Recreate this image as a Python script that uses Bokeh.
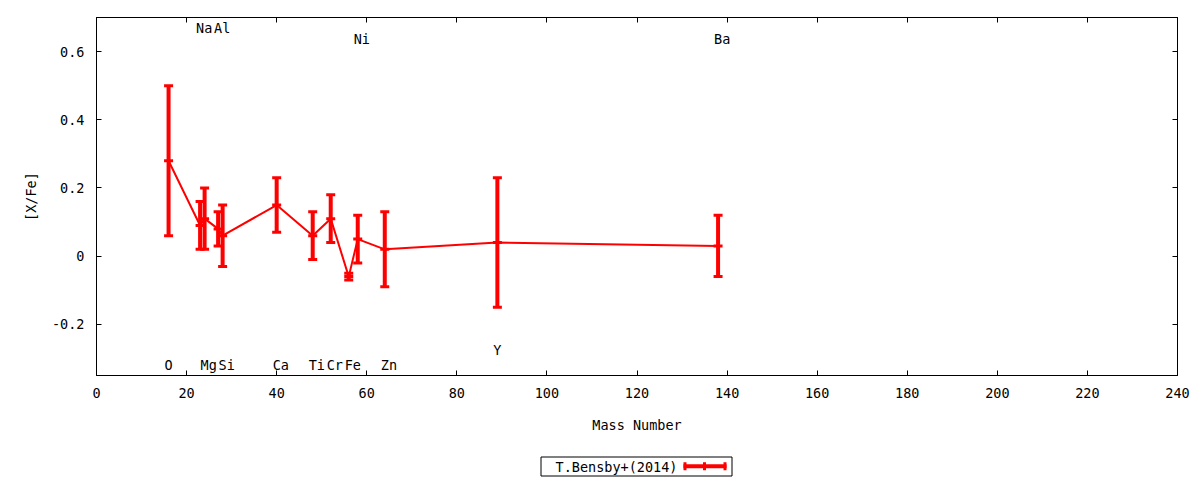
from bokeh.plotting import figure
from bokeh.layouts import column
from bokeh.models import LinearAxis, FixedTicker, Range1d, ColumnDataSource
from bokeh.core.properties import value
from bokeh.embed import file_html
from bokeh.resources import INLINE

# ---- data ----
elements = ["O", "Na", "Mg", "Al", "Si", "Ca", "Ti", "Cr", "Fe", "Ni", "Zn", "Y", "Ba"]
mass = [16, 23, 24, 27, 28, 40, 48, 52, 56, 58, 64, 89, 138]
xfe = [0.28, 0.09, 0.11, 0.08, 0.06, 0.15, 0.06, 0.11, -0.06, 0.05, 0.02, 0.04, 0.03]
err = [0.22, 0.07, 0.09, 0.05, 0.09, 0.08, 0.07, 0.07, 0.01, 0.07, 0.11, 0.19, 0.09]
label_y = [-0.318, 0.668, -0.318, 0.668, -0.318, -0.318, -0.318, -0.318, -0.318,
           0.638, -0.318, -0.276, 0.638]
x_ticks = [0, 20, 40, 60, 80, 100, 120, 140, 160, 180, 200, 220, 240]
y_ticks = [-0.2, 0, 0.2, 0.4, 0.6]
y_tick_labels = {-0.2: "-0.2", 0: "0", 0.2: "0.2", 0.4: "0.4", 0.6: "0.6"}
series_name = "T.Bensby+(2014)"

FONT = "DejaVu Sans Mono"
FS = "13.5px"
RED = "#ff0000"

lo = [v - e for v, e in zip(xfe, err)]
hi = [v + e for v, e in zip(xfe, err)]
src = ColumnDataSource(dict(x=mass, y=xfe, lo=lo, hi=hi, name=elements, ly=label_y))

p = figure(width=1200, height=452, output_backend="svg", toolbar_location=None,
           x_range=Range1d(0, 240), y_range=Range1d(-0.35, 0.7),
           min_border_left=96, min_border_right=23, min_border_top=17, min_border_bottom=77)
p.background_fill_color = "white"
p.border_fill_color = "white"
p.outline_line_color = "black"
p.outline_line_width = 1
p.grid.visible = False

# data line, error bars, caps
p.line("x", "y", source=src, line_color=RED, line_width=2)
p.segment("x", "lo", "x", "hi", source=src, line_color=RED, line_width=4)
for col in ("lo", "hi", "y"):
    p.rect("x", col, width=9, height=3, width_units="screen", height_units="screen",
           source=src, fill_color=RED, line_color=None)

# element labels
p.text("x", "ly", text="name", source=src, text_font=value(FONT), text_font_size=FS,
       text_color="black", text_align="left", text_baseline="middle", x_offset=-4)

# axes
for ax in (p.xaxis[0], p.yaxis[0]):
    ax.major_tick_in = 5
    ax.major_tick_out = 0
    ax.minor_tick_in = 0
    ax.minor_tick_out = 0
    ax.major_label_text_font = FONT
    ax.major_label_text_font_size = FS
    ax.major_label_text_color = "black"
    ax.axis_label_text_font = FONT
    ax.axis_label_text_font_size = FS
    ax.axis_label_text_font_style = "normal"
    ax.axis_label_text_color = "black"
    ax.axis_line_color = "black"
    ax.major_label_standoff = 12

p.xaxis[0].ticker = FixedTicker(ticks=x_ticks)
p.yaxis[0].ticker = FixedTicker(ticks=y_ticks)
p.yaxis[0].major_label_overrides = y_tick_labels
p.xaxis[0].axis_label = "Mass Number"
p.yaxis[0].axis_label = "[X/Fe]"
p.xaxis[0].axis_label_standoff = 16
p.yaxis[0].axis_label_standoff = 10

# mirrored ticks
top = LinearAxis(ticker=FixedTicker(ticks=x_ticks), major_tick_in=5, major_tick_out=0,
                 minor_tick_in=0, minor_tick_out=0, major_label_text_font_size="1px",
                 major_label_text_alpha=0, major_label_standoff=0, axis_line_color="black")
right = LinearAxis(ticker=FixedTicker(ticks=y_ticks), major_tick_in=5, major_tick_out=0,
                   minor_tick_in=0, minor_tick_out=0, major_label_text_font_size="1px",
                   major_label_text_alpha=0, major_label_standoff=0, axis_line_color="black")
p.add_layout(top, "above")
p.add_layout(right, "right")

# legend strip (gnuplot style: text then sample), page pixel coordinates
lg = figure(width=1200, height=28, output_backend="svg", toolbar_location=None,
            x_range=Range1d(96, 1177), y_range=Range1d(480, 452),
            min_border_left=96, min_border_right=23, min_border_top=0, min_border_bottom=0)
lg.axis.visible = False
lg.grid.visible = False
lg.outline_line_color = None
lg.background_fill_color = "white"
lg.border_fill_color = "white"
lg.quad(left=[540.5], right=[731.5], top=[456.5], bottom=[475.5],
        fill_alpha=0, line_color="black", line_width=1)
lg.text(x=[555], y=[466], text=[series_name], text_font=value(FONT), text_font_size=FS,
        text_color="black", text_align="left", text_baseline="middle")
lg.segment(x0=[683], y0=[465.7], x1=[726], y1=[465.7], line_color=RED, line_width=4)
lg.segment(x0=[684.5, 704, 724.5], y0=[461.7] * 3, x1=[684.5, 704, 724.5], y1=[469.7] * 3,
           line_color=RED, line_width=3)

layout = column(p, lg, spacing=0)
open("out.html", "w").write(file_html(layout, INLINE))
